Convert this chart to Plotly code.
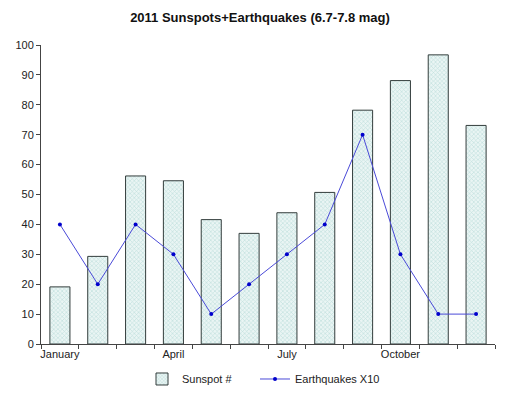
import plotly.graph_objects as go

months = ["January", "February", "March", "April", "May", "June",
          "July", "August", "September", "October", "November", "December"]
sunspots = [19.1, 29.3, 56.2, 54.6, 41.6, 37.0, 43.9, 50.7, 78.2, 88.1, 96.7, 73.1]
quakes_x10 = [40, 20, 40, 30, 10, 20, 30, 40, 70, 30, 10, 10]
label_months = ["January", "April", "July", "October"]

xpos = list(range(len(months)))
label_pos = [months.index(m) for m in label_months]

fig = go.Figure()
fig.add_trace(go.Bar(
    x=xpos, y=sunspots, name="Sunspot #", width=0.53, legend="legend",
    marker=dict(color="#eaf5f4", line=dict(color="#333d3c", width=1),
                pattern=dict(shape="x", fgcolor="#8fc6c0", size=3, solidity=0.35)),
))
fig.add_trace(go.Scatter(
    x=xpos, y=quakes_x10, name="Earthquakes X10", mode="lines+markers", legend="legend2",
    line=dict(color="#4a4ad8", width=1),
    marker=dict(color="#0000cc", size=4),
))

leg_common = dict(orientation="h", xref="container", yref="container",
                  xanchor="left", y=0.0655, yanchor="middle",
                  font=dict(size=11, family="Liberation Sans, Arial", color="#222"),
                  itemwidth=30, bgcolor="rgba(0,0,0,0)")

fig.update_layout(
    width=520, height=397,
    margin=dict(l=33, r=33, t=37, b=61, autoexpand=False),
    paper_bgcolor="white", plot_bgcolor="white",
    title=dict(text="<b>2011 Sunspots+Earthquakes (6.7-7.8 mag)</b>",
               x=252 / 520, xanchor="center", y=0.975, yanchor="middle",
               font=dict(family="Liberation Sans, Arial", size=13, color="#111")),
    font=dict(family="Liberation Sans, Arial", size=11, color="#222"),
    showlegend=True,
    legend=dict(x=134 / 520, **leg_common),
    legend2=dict(x=247 / 520, **leg_common),
    bargap=0.47,
)
fig.update_xaxes(
    range=[-0.5, 11.5], tickvals=label_pos, ticktext=label_months,
    ticks="outside", ticklen=0, showgrid=False, zeroline=False,
    showline=True, linecolor="#444", linewidth=1,
    minor=dict(tick0=-0.5, dtick=1, ticks="outside", ticklen=4, tickcolor="#444", showgrid=False),
    tickfont=dict(size=11, color="#222"),
)
fig.update_yaxes(
    range=[0, 100], dtick=10, ticks="outside", ticklen=4, tickcolor="#444",
    showgrid=False, zeroline=False, showline=True, linecolor="#444", linewidth=1,
    tickfont=dict(size=11, color="#222"),
)

fig.write_html("out.html")
